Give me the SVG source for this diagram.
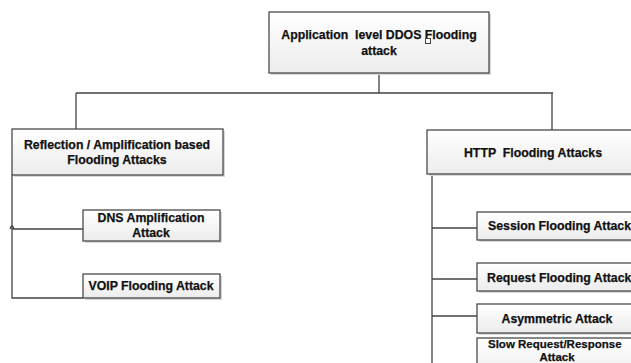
<svg xmlns="http://www.w3.org/2000/svg" width="631" height="363" viewBox="0 0 631 363">
<defs>
<linearGradient id="g" x1="0" y1="0" x2="0" y2="1">
<stop offset="0" stop-color="#ffffff"/>
<stop offset="1" stop-color="#ececec"/>
</linearGradient>
</defs>
<style>
.box{fill:url(#g);stroke:#4a4a4a;stroke-width:1.3}
.sh{fill:#d8d8d8}
.t{font-family:"Liberation Sans",Arial,sans-serif;font-weight:bold;font-size:12.3px;fill:#111;stroke:#111;stroke-width:0.25;text-anchor:middle;white-space:pre}
.s{text-anchor:start}
.sm{font-size:11.5px}
.c{fill:none;stroke:#444;stroke-width:1.3}
</style>
<rect width="631" height="363" fill="#fff"/>
<g id="connectors">
<path class="c" d="M379 73V93M76 93H553M76 93V129M552 93V130"/>
<path class="c" d="M12 175V298H83M12 229H83"/>
<path class="c" d="M10 229Q12 223 14 229" stroke-width="0.8"/>
<path class="c" d="M432 174V363M432 228H477M432 279H477M432 316H477"/>
</g>
<g id="root">
<rect class="sh" x="271" y="14" width="220" height="61"/>
<rect class="box" x="269" y="12" width="220" height="61"/>
<text class="t" x="379" y="39" xml:space="preserve">Application  level DDOS Flooding</text>
<text class="t" x="379" y="55">attack</text>
<rect x="425.5" y="38.5" width="5" height="5" fill="#fff" stroke="#444" stroke-width="1"/>
</g>
<g id="reflection">
<rect class="sh" x="14" y="131" width="211" height="46"/>
<rect class="box" x="12" y="129" width="211" height="46"/>
<text class="t" x="117" y="149">Reflection / Amplification based</text>
<text class="t" x="117" y="164">Flooding Attacks</text>
</g>
<g id="http">
<rect class="sh" x="429" y="132" width="240" height="44"/>
<rect class="box" x="427" y="130" width="240" height="44"/>
<text class="t" x="533" y="157" xml:space="preserve">HTTP  Flooding Attacks</text>
</g>
<g id="dns">
<rect class="sh" x="85" y="212" width="137" height="31"/>
<rect class="box" x="83" y="210" width="137" height="31"/>
<text class="t" x="151" y="222">DNS Amplification</text>
<text class="t" x="151" y="237">Attack</text>
</g>
<g id="voip">
<rect class="sh" x="85" y="276" width="137" height="24"/>
<rect class="box" x="83" y="274" width="137" height="24"/>
<text class="t" x="151" y="290">VOIP Flooding Attack</text>
</g>
<g id="session">
<rect class="sh" x="479" y="214" width="200" height="28"/>
<rect class="box" x="477" y="212" width="200" height="28"/>
<text class="t s" x="488" y="230">Session Flooding Attack</text>
</g>
<g id="request">
<rect class="sh" x="479" y="265" width="200" height="28"/>
<rect class="box" x="477" y="263" width="200" height="28"/>
<text class="t s" x="487" y="282">Request Flooding Attack</text>
</g>
<g id="asymmetric">
<rect class="sh" x="479" y="306" width="200" height="29"/>
<rect class="box" x="477" y="304" width="200" height="29"/>
<text class="t" x="557" y="323">Asymmetric Attack</text>
</g>
<g id="slow">
<rect class="sh" x="479" y="340" width="200" height="40"/>
<rect class="box" x="477" y="338" width="200" height="40"/>
<text class="t s sm" x="488" y="348">Slow Request/Response</text>
<text class="t sm" x="557" y="361">Attack</text>
</g>
</svg>
